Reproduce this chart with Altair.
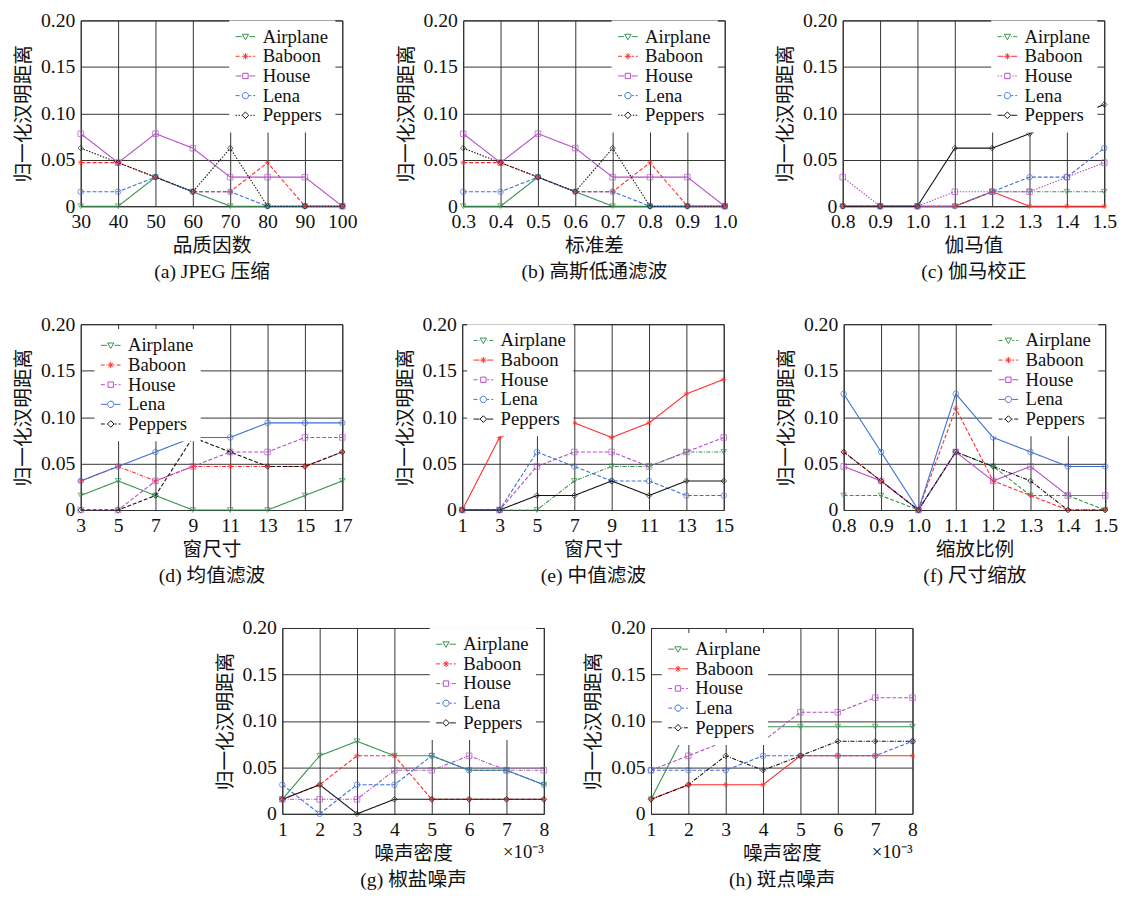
import altair as alt
import pandas as pd

SERIES = ["Airplane", "Baboon", "House", "Lena", "Peppers"]
COLORS = ["#34924a", "#ff2b2b", "#b24fc4", "#3d6ed6", "#111111"]
YTITLE = "归一化汉明距离"
YTICKS = [0, 0.05, 0.10, 0.15, 0.20]

# ---------------- data ----------------
a_x = [30, 40, 50, 60, 70, 80, 90, 100]
a_airplane = [0, 0, 0.0313, 0.0156, 0, 0, 0, 0]
a_baboon = [0.0469, 0.0469, 0.0313, 0.0156, 0.0156, 0.0469, 0, 0]
a_house = [0.0781, 0.0469, 0.0781, 0.0625, 0.0313, 0.0313, 0.0313, 0]
a_lena = [0.0156, 0.0156, 0.0313, 0.0156, 0.0156, 0, 0, 0]
a_peppers = [0.0625, 0.0469, 0.0313, 0.0156, 0.0625, 0, 0, 0]

b_x = [0.3, 0.4, 0.5, 0.6, 0.7, 0.8, 0.9, 1.0]
b_airplane = [0, 0, 0.0313, 0.0156, 0, 0, 0, 0]
b_baboon = [0.0469, 0.0469, 0.0313, 0.0156, 0.0156, 0.0469, 0, 0]
b_house = [0.0781, 0.0469, 0.0781, 0.0625, 0.0313, 0.0313, 0.0313, 0]
b_lena = [0.0156, 0.0156, 0.0313, 0.0156, 0.0156, 0, 0, 0]
b_peppers = [0.0625, 0.0469, 0.0313, 0.0156, 0.0625, 0, 0, 0]

c_x = [0.8, 0.9, 1.0, 1.1, 1.2, 1.3, 1.4, 1.5]
c_airplane = [0, 0, 0, 0, 0.0156, 0.0156, 0.0156, 0.0156]
c_baboon = [0, 0, 0, 0, 0.0156, 0, 0, 0]
c_house = [0.0313, 0, 0, 0.0156, 0.0156, 0.0156, 0.0313, 0.0469]
c_lena = [0, 0, 0, 0, 0.0156, 0.0313, 0.0313, 0.0625]
c_peppers = [0, 0, 0, 0.0625, 0.0625, 0.0781, 0.0938, 0.1094]

d_x = [3, 5, 7, 9, 11, 13, 15, 17]
d_airplane = [0.0156, 0.0313, 0.0156, 0, 0, 0, 0.0156, 0.0313]
d_baboon = [0.0313, 0.0469, 0.0313, 0.0469, 0.0469, 0.0469, 0.0469, 0.0625]
d_house = [0, 0, 0.0313, 0.0469, 0.0625, 0.0625, 0.0781, 0.0781]
d_lena = [0.0313, 0.0469, 0.0625, 0.0781, 0.0781, 0.0938, 0.0938, 0.0938]
d_peppers = [0, 0, 0.0156, 0.0781, 0.0625, 0.0469, 0.0469, 0.0625]

e_x = [1, 3, 5, 7, 9, 11, 13, 15]
e_airplane = [0, 0, 0, 0.0313, 0.0469, 0.0469, 0.0625, 0.0625]
e_baboon = [0, 0.0781, 0.0938, 0.0938, 0.0781, 0.0938, 0.125, 0.1406]
e_house = [0, 0, 0.0469, 0.0625, 0.0625, 0.0469, 0.0625, 0.0781]
e_lena = [0, 0, 0.0625, 0.0469, 0.0313, 0.0313, 0.0156, 0.0156]
e_peppers = [0, 0, 0.0156, 0.0156, 0.0313, 0.0156, 0.0313, 0.0313]

f_x = [0.8, 0.9, 1.0, 1.1, 1.2, 1.3, 1.4, 1.5]
f_airplane = [0.0156, 0.0156, 0, 0.0625, 0.0469, 0.0156, 0.0156, 0]
f_baboon = [0.0625, 0.0313, 0, 0.1094, 0.0313, 0.0156, 0, 0]
f_house = [0.0469, 0.0313, 0, 0.0625, 0.0313, 0.0469, 0.0156, 0.0156]
f_lena = [0.125, 0.0625, 0, 0.125, 0.0781, 0.0625, 0.0469, 0.0469]
f_peppers = [0.0625, 0.0313, 0, 0.0625, 0.0469, 0.0313, 0, 0]

g_x = [1, 2, 3, 4, 5, 6, 7, 8]
g_airplane = [0.0156, 0.0625, 0.0781, 0.0625, 0.0625, 0.0469, 0.0469, 0.0313]
g_baboon = [0.0156, 0.0313, 0.0625, 0.0625, 0.0156, 0.0156, 0.0156, 0.0156]
g_house = [0.0156, 0.0156, 0.0156, 0.0469, 0.0469, 0.0625, 0.0469, 0.0469]
g_lena = [0.0313, 0, 0.0313, 0.0313, 0.0625, 0.0469, 0.0469, 0.0313]
g_peppers = [0.0156, 0.0313, 0, 0.0156, 0.0156, 0.0156, 0.0156, 0.0156]

h_x = [1, 2, 3, 4, 5, 6, 7, 8]
h_airplane = [0.0156, 0.0938, 0.0938, 0.0938, 0.0938, 0.0938, 0.0938, 0.0938]
h_baboon = [0.0156, 0.0313, 0.0313, 0.0313, 0.0625, 0.0625, 0.0625, 0.0625]
h_house = [0.0469, 0.0625, 0.0781, 0.0781, 0.1094, 0.1094, 0.125, 0.125]
h_lena = [0.0469, 0.0469, 0.0469, 0.0625, 0.0625, 0.0625, 0.0625, 0.0781]
h_peppers = [0.0156, 0.0313, 0.0625, 0.0469, 0.0625, 0.0781, 0.0781, 0.0781]

# ---------------- styles ----------------
SOLID = [1, 0]
DASH = [4, 2]
DOT = [1.5, 1.5]
DASHDOT = [4, 1.5, 1, 1.5]

PW, PH = 266, 189
FONT = "Liberation Serif"
TFONT = "Liberation Serif, Noto Sans CJK SC"

# legend symbol: nominal size 17px, line drawn 20px wide
LSYM = 17.0
U = LSYM / 2.0          # px per path unit
HALF = 10.0 / U         # half line length in path units
R = 3.2 / U             # marker radius in path units

ASTER = "M-1,0L1,0M0,-1L0,1M-0.7,-0.7L0.7,0.7M-0.7,0.7L0.7,-0.7"
POINT_SHAPES = ["triangle-down", ASTER, "square", "circle", "diamond"]


def _f(v):
    return f"{v:.3f}"


LEG_MARKERS = [
    f"M{_f(-R)},{_f(-0.75*R)}L{_f(R)},{_f(-0.75*R)}L0,{_f(R)}Z",
    f"M{_f(-R)},0L{_f(R)},0M0,{_f(-R)}L0,{_f(R)}M{_f(-0.7*R)},{_f(-0.7*R)}L{_f(0.7*R)},{_f(0.7*R)}"
    f"M{_f(-0.7*R)},{_f(0.7*R)}L{_f(0.7*R)},{_f(-0.7*R)}",
    f"M{_f(-0.85*R)},{_f(-0.85*R)}L{_f(0.85*R)},{_f(-0.85*R)}L{_f(0.85*R)},{_f(0.85*R)}L{_f(-0.85*R)},{_f(0.85*R)}Z",
    f"M{_f(-R)},0A{_f(R)},{_f(R)},0,1,0,{_f(R)},0A{_f(R)},{_f(R)},0,1,0,{_f(-R)},0Z",
    f"M0,{_f(-1.05*R)}L{_f(1.05*R)},0L0,{_f(1.05*R)}L{_f(-1.05*R)},0Z",
]


def legend_path(marker, dash):
    gap = 1.2 * R
    segs = []
    if dash[1] == 0:
        segs = [(-HALF, -gap), (gap, HALF)]
    else:
        pat = [d / U for d in dash]
        pos, i = -HALF, 0
        while pos < HALF:
            end = min(pos + pat[i % len(pat)], HALF)
            if i % 2 == 0:
                for s0, s1 in ((pos, min(end, -gap)), (max(pos, gap), end)):
                    if s1 - s0 > 1e-6:
                        segs.append((s0, s1))
            pos = end
            i += 1
    return "".join(f"M{_f(s0)},0L{_f(s1)},0" for s0, s1 in segs) + marker


cscale = alt.Scale(domain=SERIES, range=COLORS)


def panel(xs, vals, dashes, xfmt, xtitle, caption, lx, ly, note=False):
    rows = []
    for s, vv in zip(SERIES, vals):
        for x, v in zip(xs, vv):
            rows.append({"x": x, "v": v, "series": s})
    df = pd.DataFrame(rows)
    xenc = alt.X("x:Q", scale=alt.Scale(domain=[xs[0], xs[-1]], nice=False, zero=False),
                 axis=alt.Axis(values=xs, format=xfmt, title=[xtitle, caption]))
    yenc = alt.Y("v:Q", scale=alt.Scale(domain=[0, 0.2], nice=False),
                 axis=alt.Axis(values=YTICKS, title=YTITLE,
                               labelExpr="datum.value == 0 ? '0' : format(datum.value, '.2f')"))
    base = alt.Chart(df)
    lines = base.mark_line(strokeWidth=1.1).encode(
        x=xenc, y=yenc,
        color=alt.Color("series:N", scale=cscale, legend=None),
        strokeDash=alt.StrokeDash("series:N", scale=alt.Scale(domain=SERIES, range=dashes), legend=None),
    )
    pts = base.mark_point(filled=False, size=32, strokeWidth=1).encode(
        x=xenc, y=yenc,
        color=alt.Color("series:N", scale=cscale, legend=None),
        shape=alt.Shape("series:N", scale=alt.Scale(domain=SERIES, range=POINT_SHAPES), legend=None),
    )
    leg = alt.Legend(title=None, orient="none", legendX=lx, legendY=ly, symbolOpacity=1)
    lpaths = [legend_path(m, d) for m, d in zip(LEG_MARKERS, dashes)]
    legl = base.mark_point(filled=False, opacity=0, size=LSYM * LSYM, strokeWidth=1).encode(
        x=xenc, y=yenc,
        color=alt.Color("series:N", scale=cscale, legend=leg),
        shape=alt.Shape("series:N", scale=alt.Scale(domain=SERIES, range=lpaths), legend=leg),
    )
    layers = [lines, pts, legl]
    if note:
        layers.append(
            alt.Chart(pd.DataFrame({"t": ["×10⁻³"]})).mark_text(
                align="right", baseline="middle", font=FONT, fontSize=19, color="#111"
            ).encode(x=alt.value(PW), y=alt.value(228), text="t:N")
        )
    return alt.layer(*layers).resolve_scale(
        color="independent", shape="independent", strokeDash="independent"
    ).properties(width=PW, height=PH)


def S5(*a):
    return list(a)


pa = panel(a_x, S5(a_airplane, a_baboon, a_house, a_lena, a_peppers),
           [SOLID, DASH, SOLID, DASH, DOT], "d", "品质因数", "(a) JPEG 压缩", 151, 0)
pb = panel(b_x, S5(b_airplane, b_baboon, b_house, b_lena, b_peppers),
           [SOLID, DASH, SOLID, DASH, DOT], ".1f", "标准差", "(b) 高斯低通滤波", 151, 0)
pc = panel(c_x, S5(c_airplane, c_baboon, c_house, c_lena, c_peppers),
           [DASHDOT, SOLID, DOT, DASH, SOLID], ".1f", "伽马值", "(c) 伽马校正", 151, 0)
pd_ = panel(d_x, S5(d_airplane, d_baboon, d_house, d_lena, d_peppers),
            [SOLID, DASHDOT, DASH, SOLID, DASH], "d", "窗尺寸", "(d) 均值滤波", 14, 5)
pe = panel(e_x, S5(e_airplane, e_baboon, e_house, e_lena, e_peppers),
           [DASHDOT, SOLID, DASH, DASH, SOLID], "d", "窗尺寸", "(e) 中值滤波", 5, 0)
pf = panel(f_x, S5(f_airplane, f_baboon, f_house, f_lena, f_peppers),
           [DASH, DASH, SOLID, SOLID, DASHDOT], ".1f", "缩放比例", "(f) 尺寸缩放", 151, 0)
pg = panel(g_x, S5(g_airplane, g_baboon, g_house, g_lena, g_peppers),
           [SOLID, DASH, DASHDOT, DASH, SOLID], "d", "噪声密度", "(g) 椒盐噪声", 150, 0, note=True)
ph = panel(h_x, S5(h_airplane, h_baboon, h_house, h_lena, h_peppers),
           [SOLID, SOLID, DASH, DASH, DASHDOT], "d", "噪声密度", "(h) 斑点噪声", 11, 5, note=True)

spacer = alt.Chart(pd.DataFrame({"z": [0]})).mark_point(opacity=0).properties(
    width=106, height=10, view=alt.ViewBackground(stroke="transparent")
)

RES = dict(color="independent", shape="independent", strokeDash="independent")
row1 = alt.hconcat(pa, pb, pc, spacing=38).resolve_scale(**RES)
row2 = alt.hconcat(pd_, pe, pf, spacing=42).resolve_scale(**RES)
row3 = alt.hconcat(spacer, pg, ph, spacing=29).resolve_scale(**RES)

chart = alt.vconcat(row1, row2, row3, spacing=31).resolve_scale(**RES).properties(
    padding={"left": 5, "top": -6, "right": 0, "bottom": 0}
).configure_view(
    stroke="#111", strokeWidth=1
).configure_axis(
    labelFont=FONT, labelFontSize=20, labelColor="#111",
    titleFont=TFONT, titleFontSize=20, titleFontWeight="normal", titleColor="#111",
    grid=True, gridColor="#333", gridWidth=1, domain=False, ticks=False,
    labelPadding=6, labelFlush=False, labelOverlap=False,
).configure_axisY(
    titlePadding=7
).configure_axisX(
    titlePadding=4, titleLineHeight=27
).configure_legend(
    labelFont=FONT, labelFontSize=19, labelColor="#111",
    fillColor="white", padding=7, rowPadding=0, labelOffset=8,
    symbolStrokeWidth=1, symbolSize=LSYM * LSYM,
)

chart.save("out.html", embed_options={"renderer": "svg", "actions": False})
